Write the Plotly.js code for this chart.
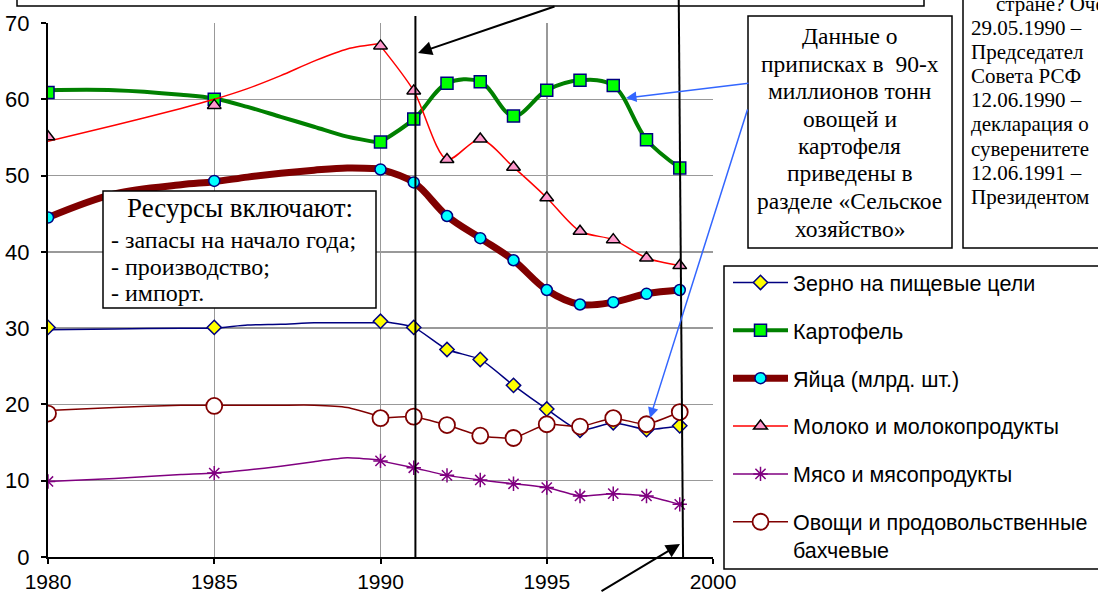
<!DOCTYPE html>
<html><head><meta charset="utf-8">
<script src="https://cdn.plot.ly/plotly-3.0.1.min.js"></script>
<style>html,body{margin:0;padding:0;background:#fff;overflow:hidden}#chart{width:1098px;height:592px}</style>
</head><body><div id="chart"></div>
<script>
// ---- data ----
const histYears  = [1980, 1982, 1984, 1985, 1986, 1987, 1988, 1989, 1990];
const earlyYears = [1980, 1985];
const mainYears  = [1990, 1991, 1992, 1993, 1994, 1995, 1996, 1997, 1998, 1999];

const seriesNames = ["Зерно на пищевые цели", "Картофель", "Яйца (млрд. шт.)",
                     "Молоко и молокопродукты", "Мясо и мясопродукты",
                     "Овощи и продовольственные<br>бахчевые"];

const grainHist  = [29.8, 29.9, 30.0, 30.0, 30.4, 30.5, 30.7, 30.7, 30.7];
const grainEarly = [30.1, 30.1];
const grainMain  = [30.9, 30.1, 27.2, 25.9, 22.5, 19.4, 16.6, 17.6, 16.7, 17.2];

const potatoHist  = [61.2, 61.2, 60.6, 60.1, 59.0, 57.7, 56.4, 55.1, 54.3];
const potatoEarly = [60.9, 60.0];
const potatoMain  = [54.4, 57.4, 62.1, 62.3, 57.8, 61.2, 62.5, 61.8, 54.7, 51.0];

const eggsHist  = [44.5, 47.6, 48.8, 49.2, 49.8, 50.3, 50.7, 51.0, 50.9];
const eggsEarly = [44.5, 49.3];
const eggsMain  = [50.8, 49.1, 44.7, 41.8, 38.9, 35.0, 33.1, 33.4, 34.5, 35.0];

const milkHist  = [54.5, 56.6, 58.8, 60.0, 61.4, 63.1, 65.0, 66.6, 67.3];
const milkEarly = [55.1, 59.2];
const milkMain  = [67.0, 61.1, 52.1, 54.8, 51.1, 47.1, 42.7, 41.6, 39.2, 38.2];

const meatHist  = [9.9, 10.3, 10.8, 11.0, 11.4, 11.9, 12.5, 13.0, 12.7];
const meatEarly = [9.9, 11.0];
const meatMain  = [12.6, 11.7, 10.7, 10.1, 9.6, 9.1, 8.0, 8.3, 8.0, 6.9];

const vegHist  = [19.2, 19.6, 19.9, 19.9, 19.9, 19.9, 19.9, 19.6, 18.4];
const vegEarly = [18.8, 19.8];
const vegMain  = [18.2, 18.4, 17.3, 15.9, 15.6, 17.4, 17.1, 18.2, 17.4, 19.0];

const xTicks = [1980, 1985, 1990, 1995, 2000];
const yTicks = [0, 10, 20, 30, 40, 50, 60, 70];

// ---- styles ----
const styles = [
  {line:{color:'#000080', width:1.5, shape:'spline', smoothing:0.6},
   marker:{symbol:'diamond', size:11, color:'#ffff00', line:{color:'#000080', width:1.5}}},
  {line:{color:'#008000', width:4, shape:'spline', smoothing:1},
   marker:{symbol:'square', size:12, color:'#00ff00', line:{color:'#000080', width:1.5}}},
  {line:{color:'#800000', width:7, shape:'spline', smoothing:1},
   marker:{symbol:'circle', size:11, color:'#00ffff', line:{color:'#000080', width:1.5}}},
  {line:{color:'#ff0000', width:1.5, shape:'spline', smoothing:0.8},
   marker:{symbol:'triangle-up', size:12, color:'#ff99cc', line:{color:'#000000', width:1.5}}},
  {line:{color:'#800080', width:1.5, shape:'spline', smoothing:0.5},
   marker:{symbol:'asterisk-open', size:12, color:'#800080', line:{color:'#800080', width:1.5}}},
  {line:{color:'#800000', width:1.5, shape:'spline', smoothing:0.5},
   marker:{symbol:'circle', size:16, color:'#ffffff', line:{color:'#800000', width:1.8}}}
];
const hist  = [grainHist, potatoHist, eggsHist, milkHist, meatHist, vegHist];
const early = [grainEarly, potatoEarly, eggsEarly, milkEarly, meatEarly, vegEarly];
const main  = [grainMain, potatoMain, eggsMain, milkMain, meatMain, vegMain];

const traces = [];
for (let i = 0; i < 6; i++) {
  const st = styles[i], g = 'g' + i;
  traces.push({x: histYears, y: hist[i], type:'scatter', mode:'lines', line: st.line,
               legendgroup: g, showlegend:false, hoverinfo:'skip'});
  traces.push({x: mainYears, y: main[i], type:'scatter', mode:'lines+markers', name: seriesNames[i],
               line: st.line, marker: st.marker, legendgroup: g, showlegend:true});
  traces.push({x: earlyYears, y: early[i], type:'scatter', mode:'markers', marker: st.marker,
               legendgroup: g, showlegend:false});
}

// ---- pixel helpers for decorations ----
const W = 1098, H = 592, L = 48, T = 23, R = 713, B = 557;
const PW = R - L, PH = B - T;
const px = x => (x - L) / PW;
const py = y => (B - y) / PH;
const xr = [1980, 2000];
const yearX = yr => (yr - xr[0]) / (xr[1] - xr[0]);

const serif = 'Liberation Serif, Times New Roman, serif';
const sans = 'Liberation Sans, Arial, sans-serif';

const shapes = [
  {type:'rect', xref:'paper', yref:'paper', x0:px(17), x1:px(924), y0:py(6), y1:py(-20),
   line:{color:'#000', width:1.5}, fillcolor:'#fff'},
  {type:'rect', xref:'paper', yref:'paper', x0:px(963), x1:px(1120), y0:py(248), y1:py(-20),
   line:{color:'#000', width:1.5}, fillcolor:'#fff'},
  {type:'rect', xref:'paper', yref:'paper', x0:px(748), x1:px(952), y0:py(248), y1:py(16),
   line:{color:'#000', width:1.5}, fillcolor:'#fff'},
  {type:'rect', xref:'paper', yref:'paper', x0:px(103), x1:px(376), y0:py(308), y1:py(191),
   line:{color:'#000', width:1.5}, fillcolor:'#fff'},
  {type:'rect', xref:'paper', yref:'paper', x0:px(724), x1:px(1120), y0:py(569), y1:py(266),
   line:{color:'#000', width:1.5}, fillcolor:'#fff', layer:'below'},
  {type:'line', xref:'paper', yref:'paper', x0:yearX(1991.05), x1:yearX(1991.05), y0:0, y1:py(16),
   line:{color:'#000', width:2}},
  {type:'line', xref:'paper', yref:'paper', x0:yearX(1999.1), x1:yearX(1998.97), y0:0, y1:py(0),
   line:{color:'#000', width:2}}
];

const ann = [];
function txt(text, x, y, anchor, size, font) {
  ann.push({text, xref:'paper', yref:'paper', x:px(x), y:py(y), xanchor:anchor, yanchor:'middle',
            showarrow:false, font:{family:font || serif, size:size, color:'#000'}});
}
const rightLines = ["29.05.1990 –", "Председател", "Совета РСФ", "12.06.1990 –",
                    "декларация о", "суверенитете", "12.06.1991 –", "Президентом"];
txt("стране? Оче", 994, 4, 'left', 21);
rightLines.forEach((s, k) => txt(s, 969, 28 + k * 24.1, 'left', 21));
const dataLines = ["Данные о", "приписках в  90-х", "миллионов тонн", "овощей и",
                   "картофеля", "приведены в", "разделе «Сельское", "хозяйство»"];
dataLines.forEach((s, k) => txt(s, 850, 36 + k * 27.5, 'center', 23.5));
txt("Ресурсы включают:", 240, 208, 'center', 27);
txt("- запасы на начало года;", 109, 240, 'left', 24);
txt("- производство;", 109, 267, 'left', 24);
txt("- импорт.", 109, 293, 'left', 24);

function arrow(tipX, tipY, tailX, tailY, color, w) {
  ann.push({text:'', xref:'paper', yref:'paper', x:px(tipX), y:py(tipY),
            ax: tailX - tipX, ay: tailY - tipY, showarrow:true, arrowhead:2,
            arrowsize:1.4, arrowwidth:w, arrowcolor:color, standoff:0});
}
arrow(418, 53, 556, 6, '#000', 2);
arrow(680, 544, 600, 596, '#000', 2);
arrow(626, 98, 750, 83, '#3366ff', 1.5);
arrow(650, 418, 748, 108, '#3366ff', 1.5);

const layout = {
  width: W, height: H,
  margin: {l: L, r: W - R, t: T, b: H - B, autoexpand:false},
  paper_bgcolor:'#fff', plot_bgcolor:'#fff',
  showlegend: true,
  legend: {x: px(728), y: py(262), xanchor:'left', yanchor:'top',
           bgcolor:'rgba(0,0,0,0)', borderwidth:0, traceorder:'grouped',
           tracegroupgap: 16.9, valign:'top', itemwidth: 55,
           font:{family: sans, size: 21.5, color:'#000'}},
  xaxis: {range: xr, tickvals: xTicks, ticktext: xTicks.map(String),
          showgrid:true, gridcolor:'#999999', gridwidth:1.5,
          showline:true, linecolor:'#000', linewidth:2,
          ticks:'outside', ticklen:5, tickwidth:2, tickcolor:'#000', ticklabelstandoff:0,
          tickfont:{family: sans, size: 21, color:'#000'}, zeroline:false, fixedrange:true},
  yaxis: {range:[0, 70], tickvals: yTicks, ticktext: yTicks.map(String),
          showgrid:true, gridcolor:'#999999', gridwidth:1.5,
          showline:true, linecolor:'#000', linewidth:2,
          ticks:'outside', ticklen:5, tickwidth:2, tickcolor:'#000', ticklabelstandoff:7,
          tickfont:{family: sans, size: 22, color:'#000'}, zeroline:false, fixedrange:true},
  shapes: shapes,
  annotations: ann
};

Plotly.newPlot('chart', traces, layout, {displayModeBar:false, staticPlot:true});
</script>
</body></html>
